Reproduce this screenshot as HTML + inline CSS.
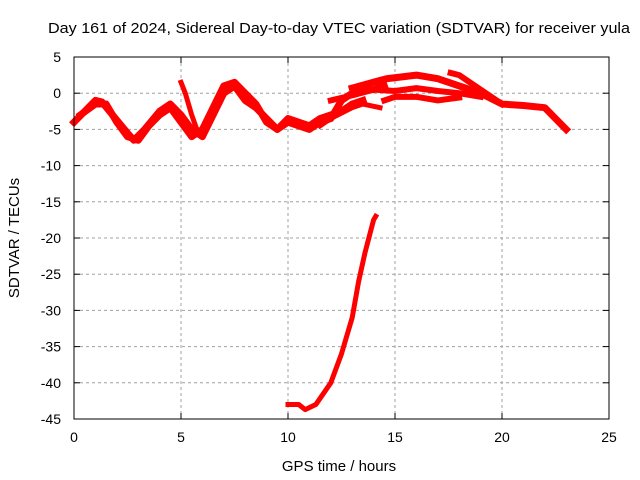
<!DOCTYPE html>
<html><head><meta charset="utf-8"><style>
body{margin:0;background:#fff}
svg{display:block;font-family:"Liberation Sans",sans-serif}
</style></head><body>
<svg id="c" width="640" height="480">
<text x="339" y="33" font-size="15" text-anchor="middle" textLength="582" lengthAdjust="spacingAndGlyphs">Day 161 of 2024, Sidereal Day-to-day VTEC variation (SDTVAR) for receiver yula</text>
<text x="339" y="471" font-size="15" text-anchor="middle">GPS time / hours</text>
<text transform="translate(19,238) rotate(-90)" font-size="15" text-anchor="middle">SDTVAR / TECUs</text>
<g id="grid"></g><g id="marks"></g>
<rect x="74" y="57" width="535" height="362" fill="none" stroke="#000"/>
</svg>
<script>
const xTicks=[0,5,10,15,20,25];
const yTicks=[5,0,-5,-10,-15,-20,-25,-30,-35,-40,-45];
const s1t=[0,0.5,1,1.3,1.8,2.5,2.8,3.3,4,4.5,5,5.5,6,6.5,7,7.5,8,8.5,9,9.5,10,10.5,11,11.5,12,12.5,13,13.5,14,14.5];
const s1v=[-4,-2.5,-1,-1.2,-3,-5.5,-6.5,-5,-2.5,-1.5,-3,-5,-6,-3,0,1,-1,-2,-3.5,-5,-4,-4.5,-5,-4,-3.5,-1,0,0.5,0.5,1];
const s2t=[0.3,1,1.5,2,2.5,3,3.5,4,4.5,5,5.5,6,6.5,7,7.5,8,8.5,9,9.5,10,10.5,11,11.5,12,12.5,13,13.5];
const s2v=[-3,-1.5,-1.5,-4,-6,-6.5,-4.5,-3,-2,-4,-6,-5,-2,1,1.5,0,-1.5,-4,-5,-3.5,-4,-4.5,-3.5,-3,-2.5,-1.5,-1];
const s3t=[5,5.2,5.5,5.8];
const s3v=[1.5,0,-3,-5.5];
const s4t=[13,14.6,16,17,18,19,20,21,22,22.5,23];
const s4v=[0.7,2,2.5,2,1,0,-1.5,-1.7,-2,-3.5,-5];
const s5t=[12,13,14,15,16,17,18,19];
const s5v=[-1,-0.3,0.5,0.3,0.7,0.3,0,-0.5];
const s6t=[14.5,15,16,17,18];
const s6v=[-1,-0.5,-0.5,-1,-0.6];
const s7t=[17.6,18,19,20];
const s7v=[2.8,2.5,0.5,-1.5];
const s8t=[11.5,12,13,13.5,14.3];
const s8v=[-4.5,-3.5,-2,-1.5,-2];
const s9t=[10,10.5,10.8,11.3,12,12.5,13,13.3,13.6,14,14.1];
const s9v=[-43,-43,-43.7,-43,-40,-36,-31,-26,-22,-17.5,-17];
const X=t=>74+t*535/25, Y=v=>57+(5-v)*362/50;
const NS='http://www.w3.org/2000/svg';
const svg=document.getElementById('c'),g=document.getElementById('grid'),m=document.getElementById('marks');
function el(n,a,p){const e=document.createElementNS(NS,n);for(const k in a)e.setAttribute(k,a[k]);p.appendChild(e);return e;}
xTicks.forEach(t=>{
 if(t>0&&t<25){const l=el('line',{x1:X(t),x2:X(t),y1:57,y2:419,stroke:'#a0a0a0','stroke-dasharray':'3,3'},g);
 
 
 el('line',{x1:X(t),x2:X(t),y1:419,y2:413,stroke:'#000'},g);
 el('line',{x1:X(t),x2:X(t),y1:57,y2:63,stroke:'#000'},g);}
 const tx=el('text',{x:X(t),y:442,'font-size':14,'text-anchor':'middle'},svg);tx.textContent=t;
 
 
});
yTicks.forEach(v=>{
 if(v<5&&v>-45){const l=el('line',{x1:74,x2:609,y1:Y(v),y2:Y(v),stroke:'#a0a0a0','stroke-dasharray':'3,3'},g);
 
 
 el('line',{x1:74,x2:80,y1:Y(v),y2:Y(v),stroke:'#000'},g);
 el('line',{x1:603,x2:609,y1:Y(v),y2:Y(v),stroke:'#000'},g);}
 const tx=el('text',{x:61,y:Y(v)+5,'font-size':14,'text-anchor':'end'},svg);tx.textContent=v;
 
 
});
const series=[[s1t,s1v,7],[s2t,s2v,7],[s3t,s3v,5],[s4t,s4v,7],[s5t,s5v,6],[s6t,s6v,6],[s7t,s7v,6],[s8t,s8v,5],[s9t,s9v,5]];
series.forEach(([ts,vs,w],i)=>{
 const p=el('polyline',{points:ts.map((t,j)=>X(t)+','+Y(vs[j])).join(' '),fill:'none',stroke:'#ff0000','stroke-width':w,'stroke-linejoin':'round','stroke-linecap':'square'},m);
 
 
});
</script>
</body></html>
